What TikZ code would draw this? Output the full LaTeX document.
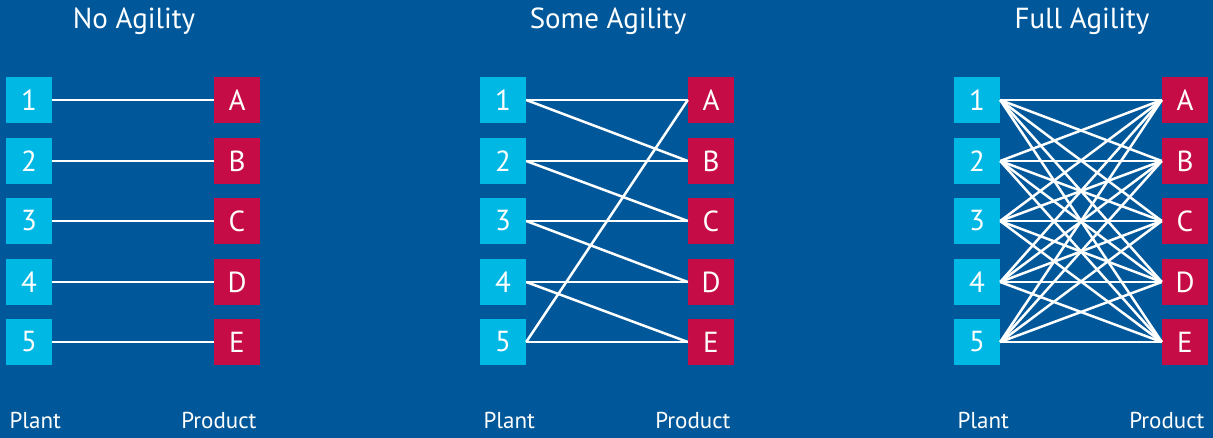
\documentclass[tikz,border=0pt]{standalone}
\usepackage{fontspec}
\setmainfont{PT Sans}
\definecolor{bg}{RGB}{0,88,155}
\definecolor{plantc}{RGB}{0,184,228}
\definecolor{prodc}{RGB}{197,12,70}
\begin{document}
\begin{tikzpicture}[x=1pt,y=-1pt,
  box/.style={minimum width=46pt,minimum height=46pt,inner sep=0pt,text=white,font=\fontsize{29}{29}\selectfont},
  plantbox/.style={box,fill=plantc},
  prodbox/.style={box,fill=prodc},
  link/.style={white,line width=2.5pt},
  title/.style={text=white,font=\fontsize{29}{29}\selectfont},
  foot/.style={text=white,font=\fontsize{23}{23}\selectfont}]
\fill[bg] (0,0) rectangle (1213,438);
\useasboundingbox (0,0) rectangle (1213,438);
\foreach \p/\ox in {a/0,b/474,c/948}{
  \foreach \i/\L/\yy in {1/A/100,2/B/161,3/C/221,4/D/282,5/E/342}{
    \node[plantbox] (\p\i) at (29+\ox,\yy) {\i};
    \node[prodbox] (\p\L) at (237+\ox,\yy) {\L};
  }
}
\node[title] (ta) at (134,21) {No Agility};
\node[title] (tb) at (608,21) {Some Agility};
\node[title] (tc) at (1082,21) {Full Agility};
\foreach \ox/\n in {0/a,474/b,948/c}{
  \node[foot,anchor=base west] (pl\n) at (6+\ox,428) {Plant};
  \node[foot,anchor=base east] (pr\n) at (260+\ox,428) {Product};
}
% No agility
\foreach \i/\L in {1/A,2/B,3/C,4/D,5/E}
  \draw[link] (a\i.east) -- (a\L.west);
% Some agility
\foreach \i/\L in {1/A,1/B,2/B,2/C,3/C,3/D,4/D,4/E,5/E,5/A}
  \draw[link] (b\i.east) -- (b\L.west);
% Full agility
\foreach \i in {1,...,5}
  \foreach \L in {A,B,C,D,E}
    \draw[link] (c\i.east) -- (c\L.west);
\end{tikzpicture}
\end{document}
